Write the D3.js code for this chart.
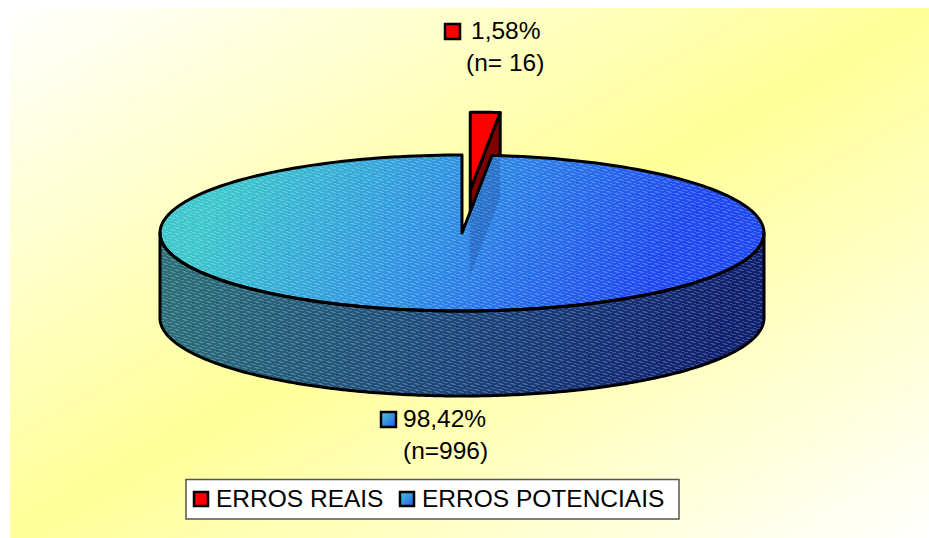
<!DOCTYPE html>
<html lang="pt">
<head>
<meta charset="utf-8">
<title>Erros reais e potenciais</title>
<script src="https://cdn.jsdelivr.net/npm/d3@7/dist/d3.min.js"></script>
<style>
  html, body { margin: 0; padding: 0; background: #fff; }
  svg { display: block; }
  text { font-family: "Liberation Sans", Arial, sans-serif; fill: #000; }
</style>
</head>
<body>
<svg id="chart" width="929" height="538"></svg>
<script>
// Error counts by category
const categories = ["ERROS REAIS", "ERROS POTENCIAIS"];
const counts = [16, 996];
const percentLabels = ["1,58%", "98,42%"];
const countLabels = ["(n= 16)", "(n=996)"];

const svg = d3.select("#chart");
const defs = svg.append("defs");

// Tilted-disc geometry
const cx = 462, cy = 233, rx = 302, ry = 78, depth = 85;
const explode = 0.55;

const gradient = (id, coords, stops) => {
  const g = defs.append("linearGradient").attr("id", id).attr("gradientUnits", coords.units || "objectBoundingBox")
    .attr("x1", coords.x1).attr("y1", coords.y1).attr("x2", coords.x2).attr("y2", coords.y2);
  stops.forEach(([o, c]) => g.append("stop").attr("offset", o).attr("stop-color", c));
};

gradient("bg", {x1: 0, y1: 0, x2: 1, y2: 1}, [[0, "#ffffff"], [0.5, "#ffff99"], [1, "#ffffff"]]);
gradient("topFace", {units: "userSpaceOnUse", x1: 260, y1: 130, x2: 620, y2: 330},
  [[0, "#3dc6cc"], [0.5, "#2f8fe4"], [1, "#1f49f0"]]);
gradient("sideFace", {units: "userSpaceOnUse", x1: 180, y1: 240, x2: 700, y2: 400},
  [[0, "#2b6f78"], [0.5, "#1d4a7c"], [1, "#102070"]]);
gradient("keyBlue", {x1: 0, y1: 0, x2: 1, y2: 1}, [[0, "#45cfd0"], [1, "#2a55f5"]]);

// Fine stepped dash texture laid over the disc
const hatch = defs.append("pattern").attr("id", "hatch").attr("patternUnits", "userSpaceOnUse")
  .attr("width", 12).attr("height", 6);
[[0, 4], [4, 2], [8, 0], [6, 5], [10, 3], [2, 1]].forEach(([x, y]) =>
  hatch.append("rect").attr("x", x).attr("y", y).attr("width", 4).attr("height", 1)
    .attr("fill", "#fff").attr("fill-opacity", 0.2));

// Background panel
svg.append("rect").attr("x", 10).attr("y", 8).attr("width", 919).attr("height", 530).attr("fill", "url(#bg)");

// Slice angles, clockwise from twelve o'clock
const arcs = d3.pie().sort(null)(counts);
const [real, potential] = arcs;

const project = (a, ox = 0, oy = 0) => [cx + ox + rx * Math.sin(a), cy + oy - ry * Math.cos(a)];
const sweep = (a0, a1, ox = 0, oy = 0) => d3.range(0, 241).map(i => project(a0 + (a1 - a0) * i / 240, ox, oy));
const toPath = d3.line();

// Offset of the pulled-out slice along its mid angle
const mid = (real.startAngle + real.endAngle) / 2;
const offX = rx * Math.sin(mid) * explode;
const offY = -ry * Math.cos(mid) * explode;
const tip = [cx + offX, cy + offY];
const drop = ([x, y]) => [x, y + depth];

const realRim = sweep(real.startAngle, real.endAngle, offX, offY);
const realEnd = realRim[realRim.length - 1];
const realCut = [tip, drop(tip), drop(realEnd), realEnd];

const ink = sel => sel.attr("stroke", "#000").attr("stroke-width", 3).attr("stroke-linejoin", "round");

// Pulled-out slice: cut wall, then top face
ink(svg.append("path").attr("d", toPath(realCut) + "Z").attr("fill", "#800000"));
ink(svg.append("path").attr("d", toPath([tip, ...realRim]) + "Z").attr("fill", "#ff0000"));

// Large slice: outer wall is only the front half of the rim
const frontRim = sweep(Math.PI / 2, 3 * Math.PI / 2);
const wall = [...frontRim, ...frontRim.slice().reverse().map(drop)];
const centre = [cx, cy];
const topRim = sweep(potential.startAngle, potential.endAngle);
const topFace = [centre, ...topRim];

svg.append("path").attr("d", toPath(wall) + "Z").attr("fill", "url(#sideFace)");
svg.append("path").attr("d", toPath(wall) + "Z").attr("fill", "url(#hatch)");
svg.append("path").attr("d", toPath(topFace) + "Z").attr("fill", "url(#topFace)");
svg.append("path").attr("d", toPath(topFace) + "Z").attr("fill", "url(#hatch)");

// Faint trace of the slice wall showing through the top face
svg.append("clipPath").attr("id", "topClip").append("path").attr("d", toPath(topFace) + "Z");
svg.append("path").attr("d", toPath(realCut) + "Z").attr("fill", "#12236a").attr("fill-opacity", 0.2)
  .attr("clip-path", "url(#topClip)");

// Outlines of the large slice
ink(svg.append("path").attr("d", toPath(wall) + "Z").attr("fill", "none"));
ink(svg.append("path").attr("d", toPath(topFace) + "Z").attr("fill", "none"));

// Data labels
const fontSize = 24.5;
const keySquare = (g, x, y, size, fill, sw) => g.append("rect").attr("x", x).attr("y", y).attr("width", size).attr("height", size)
  .attr("fill", fill).attr("stroke", "#000").attr("stroke-width", sw);
const label = (x, y, s, anchor = "start") => svg.append("text").attr("x", x).attr("y", y)
  .attr("font-size", fontSize).attr("text-anchor", anchor).text(s);

keySquare(svg, 445, 24, 15, "#ff0000", 2.5);
label(471, 39, percentLabels[0]);
label(466, 71, countLabels[0]);

keySquare(svg, 381, 412, 15, "url(#keyBlue)", 2.5);
label(403, 427, percentLabels[1]);
label(403, 459, countLabels[1]);

// Legend
svg.append("rect").attr("x", 186).attr("y", 479.5).attr("width", 493).attr("height", 39.5)
  .attr("fill", "#fff").attr("stroke", "#555").attr("stroke-width", 1.5);
const legendX = [{k: 194, t: 216}, {k: 400, t: 422}];
categories.forEach((c, i) => {
  keySquare(svg, legendX[i].k, 492, 14, i ? "url(#keyBlue)" : "#ff0000", 2.5);
  label(legendX[i].t, 507, c);
});
</script>
</body>
</html>
